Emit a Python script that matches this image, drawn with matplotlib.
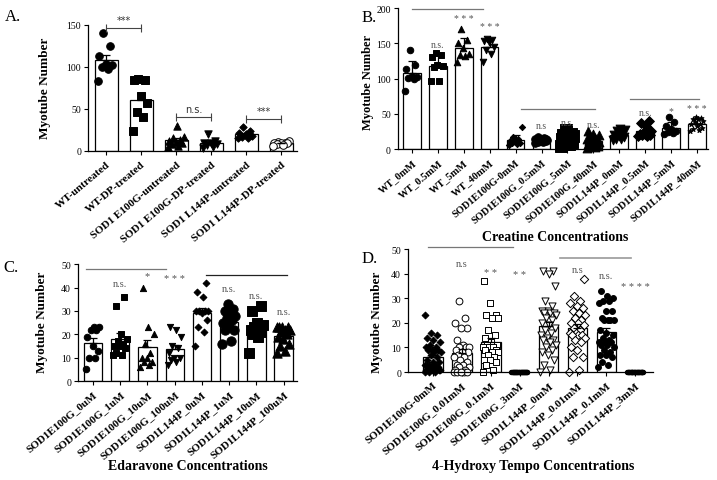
import numpy as np
import matplotlib.pyplot as plt

plt.rcParams['font.family'] = ['Liberation Serif', 'DejaVu Serif']

# ---------------- Panel A: DP treatment ----------------
a_labels = ['WT-untreated', 'WT-DP-treated', 'SOD1 E100G-untreated',
            'SOD1 E100G-DP-treated', 'SOD1 L144P-untreated', 'SOD1 L144P-DP-treated']
a_wt_untreated = [141, 125, 113, 103, 102, 100, 98, 83]
a_wt_dp = [85, 84, 86, 65, 57, 41, 47, 24]
a_e100g_untreated = [30, 17, 15, 13, 12, 11, 10, 8, 6, 5]
a_e100g_dp = [20, 12, 10, 9, 8, 7, 5, 4]
a_l144p_untreated = [28, 24, 22, 20, 18, 17, 16, 15]
a_l144p_dp = [12, 11, 10, 10, 9, 9, 8, 7, 6]

# ---------------- Panel B: creatine ----------------
b_labels = ['WT_0mM', 'WT_0.5mM', 'WT_5mM', 'WT_40mM', 'SOD1E100G-0mM', 'SOD1E100G_0.5mM',
            'SOD1E100G_5mM', 'SOD1E100G_40mM', 'SOD1L144P_0mM', 'SOD1L144P_0.5mM',
            'SOD1L144P_5mM', 'SOD1L144P_40mM']
b_wt_0 = [140, 120, 113, 104, 102, 101, 100, 83]
b_wt_05 = [136, 134, 131, 119, 118, 117, 96, 97]
b_wt_5 = [170, 155, 150, 143, 135, 132, 133, 124]
b_wt_40 = [156, 155, 154, 152, 145, 140, 135, 124]
b_e100g_0 = [31, 17, 14, 12, 11, 9, 8, 7, 6]
b_e100g_05 = [17, 16, 15, 15, 14, 14, 13, 13, 12, 12, 12, 11, 11, 10, 10, 9]
b_e100g_5 = [27, 22, 20, 20, 18, 16, 15, 14, 12, 10, 8, 7, 5]
b_e100g_40 = [25, 22, 20, 18, 16, 15, 14, 13, 12, 11, 10, 9, 8, 7, 6, 5, 4, 3, 2]
b_l144p_0 = [28, 27, 25, 22, 20, 18, 17, 15, 14, 13]
b_l144p_05 = [40, 37, 33, 25, 23, 22, 22, 21, 20, 20, 19, 18]
b_l144p_5 = [46, 38, 33, 28, 25, 24, 23, 22]
b_l144p_40 = [45, 44, 43, 42, 40, 38, 36, 35, 33, 30, 28, 27, 25]

# ---------------- Panel C: edaravone ----------------
c_labels = ['SOD1E100G_0uM', 'SOD1E100G_1uM', 'SOD1E100G_10uM', 'SOD1E100G_100uM',
            'SOD1L144P_0uM', 'SOD1L144P_1uM', 'SOD1L144P_10uM', 'SOD1L144P_100uM']
c_e100g_0 = [23, 23, 22, 22, 19, 15, 13, 10, 10, 5]
c_e100g_1 = [36, 32, 20, 18, 17, 16, 15, 15, 14, 12, 11, 11]
c_e100g_10 = [40, 23, 20, 16, 12, 10, 10, 8, 8, 7, 6]
c_e100g_100 = [23, 22, 19, 15, 14, 12, 10, 10, 9, 8, 7]
c_l144p_0 = [42, 38, 36, 30, 30, 30, 30, 29, 26, 23, 21, 15]
c_l144p_1 = [33, 31, 30, 30, 28, 27, 26, 25, 23, 22, 22, 17, 16]
c_l144p_10 = [32, 30, 25, 24, 23, 23, 22, 22, 21, 20, 19, 12]
c_l144p_100 = [23, 23, 23, 23, 22, 22, 21, 20, 19, 18, 16, 15, 13, 12]

# ---------------- Panel D: 4-hydroxy tempo ----------------
d_labels = ['SOD1E100G-0mM', 'SOD1E100G_0.01mM', 'SOD1E100G_0.1mM', 'SOD1E100G_3mM',
            'SOD1L144P_0mM', 'SOD1L144P_0.01mM', 'SOD1L144P_0.1mM', 'SOD1L144P_3mM']
d_e100g_0 = [23, 16, 15, 14, 13, 12, 11, 10, 10, 9, 9, 9, 8, 8, 7, 6, 5, 4, 3, 3,
             2, 2, 2, 1, 1, 1, 1, 1, 1, 0, 0, 0, 2, 3, 4]
d_e100g_001 = [29, 22, 20, 18, 18, 13, 11, 10, 10, 10, 9, 8, 8, 7, 6, 6, 5, 4, 3, 3,
               2, 2, 1, 1, 0, 0, 0, 0, 0]
d_e100g_01 = [37, 28, 23, 23, 22, 22, 17, 15, 14, 12, 11, 11, 10, 10, 10, 9, 9, 8, 8,
              7, 6, 5, 5, 4, 3, 1, 0]
d_e100g_3 = [0] * 30
d_l144p_0 = [41, 41, 40, 35, 29, 27, 25, 25, 24, 24, 24, 23, 22, 21, 20, 19, 18, 17,
             16, 15, 14, 13, 13, 12, 11, 10, 9, 8, 7, 5, 3, 1, 0]
d_l144p_001 = [38, 31, 29, 28, 27, 26, 25, 24, 23, 22, 21, 20, 20, 19, 18, 17, 16, 16,
               15, 15, 15, 14, 13, 12, 10, 9, 6, 6, 1, 0]
d_l144p_01 = [33, 31, 30, 29, 29, 28, 25, 25, 22, 21, 21, 21, 21, 17, 16, 15, 14, 13,
              12, 12, 12, 11, 11, 10, 9, 8, 7, 7, 6, 4, 3, 2]
d_l144p_3 = [0] * 30


def spread(vals, width):
    # deterministic scatter of points across the bar
    vals = np.asarray(vals)
    order = np.argsort(vals, kind='stable')
    offs = np.zeros(len(vals))
    for k, i in enumerate(order):
        offs[i] = ((k * 0.618) % 1 - 0.5) * 2 * width
    return offs


def draw_groups(ax, groups, markers, err='sem', bw=0.65, spread_w=0.25):
    for i, (vals, (m, s, filled)) in enumerate(zip(groups, markers)):
        vals = np.asarray(vals, float)
        mean = vals.mean()
        sd = vals.std(ddof=1)
        e = sd if err == 'sd' else sd / np.sqrt(len(vals))
        ax.bar(i, mean, width=bw, color='white', edgecolor='black', lw=0.9, zorder=1)
        ax.scatter(i + spread(vals, spread_w), vals, marker=m, s=s,
                   facecolor='black' if filled else 'white', edgecolor='black',
                   lw=0.7, zorder=2, clip_on=False)
        if e > 0:
            ax.errorbar(i, mean, yerr=[[0], [e]], color='black', lw=0.9,
                        capsize=3, capthick=0.9, zorder=3)


def style(ax, labels, yticks, xlim, xfs=8):
    for sp in ['top', 'right']:
        ax.spines[sp].set_visible(False)
    ax.spines['left'].set_linewidth(0.9)
    ax.spines['bottom'].set_linewidth(0.9)
    ax.set_xlim(*xlim)
    ax.set_ylim(yticks[0], yticks[-1])
    ax.set_yticks(yticks)
    ax.set_xticks(range(len(labels)))
    ax.set_xticklabels(labels, rotation=40, ha='right', rotation_mode='anchor',
                       fontweight='bold', fontsize=xfs)
    ax.tick_params(axis='both', length=3, width=0.8, labelsize=7, pad=2)
    ax.tick_params(axis='x', labelsize=xfs, pad=3)


fig = plt.figure(figsize=(7.17, 4.81), dpi=100)

# Panel A
axA = fig.add_axes([0.1227, 0.684, 0.2915, 0.262])
draw_groups(axA, [a_wt_untreated, a_wt_dp, a_e100g_untreated, a_e100g_dp,
                  a_l144p_untreated, a_l144p_dp],
            [('o', 30, True), ('s', 28, True), ('^', 28, True), ('v', 28, True),
             ('D', 14, True), ('o', 30, False)], err='sem', bw=0.65, spread_w=0.24)
style(axA, a_labels, [0, 50, 100, 150], (-0.52, 5.45))
for x0, x1, y, txt in [(0, 1, 146, '***'), (2, 3, 40.5, 'n.s.'), (4, 5, 37.8, '***')]:
    axA.plot([x0, x1], [y, y], color='#444444', lw=0.8, clip_on=False)
    axA.plot([x0, x1], [y, y], ls='none', marker='|', ms=6, mew=0.8,
             color='#444444', clip_on=False)
    axA.text((x0 + x1) / 2, y + 4, txt, ha='center', va='bottom', fontsize=7,
             family='DejaVu Sans', color='#333333')

# Panel B
axB = fig.add_axes([0.555, 0.688, 0.4323, 0.293])
draw_groups(axB, [b_wt_0, b_wt_05, b_wt_5, b_wt_40, b_e100g_0, b_e100g_05, b_e100g_5,
                  b_e100g_40, b_l144p_0, b_l144p_05, b_l144p_5, b_l144p_40],
            [('o', 22, True), ('s', 22, True), ('^', 22, True), ('v', 22, True),
             ('D', 10, True), ('o', 30, True), ('s', 70, True), ('^', 40, True),
             ('v', 40, True), ('D', 25, True), ('o', 22, True), ('*', 14, True)],
            err='sd', bw=0.68, spread_w=0.26)
style(axB, b_labels, [0, 50, 100, 150, 200], (-0.54, 11.42), xfs=7.5)
for x0, x1, y in [(0, 2.75, 199), (4.2, 7.05, 57), (8.4, 11.07, 71.5)]:
    axB.plot([x0, x1], [y, y], color='#777777', lw=0.9, clip_on=False)
for x, y, txt in [(1, 149, 'n.s.'), (2, 186, '* * *'), (3, 174, '* * *'), (5, 33, 'n.s'),
                  (6, 38, 'n.s.'), (7, 35, 'n.s.'), (9, 52, 'n.s.'), (10, 55, '*'),
                  (11, 58, '* * *')]:
    axB.text(x, y, txt, ha='center', va='center', fontsize=7, color='#555555')

# Panel C
axC = fig.add_axes([0.1088, 0.2058, 0.305, 0.243])
draw_groups(axC, [c_e100g_0, c_e100g_1, c_e100g_10, c_e100g_100, c_l144p_0, c_l144p_1,
                  c_l144p_10, c_l144p_100],
            [('o', 22, True), ('s', 22, True), ('^', 20, True), ('v', 20, True),
             ('D', 12, True), ('o', 45, True), ('s', 45, True), ('^', 45, True)],
            err='sem', bw=0.67, spread_w=0.26)
style(axC, c_labels, [0, 10, 20, 30, 40, 50], (-0.55, 7.48))
axC.plot([-0.24, 2.69], [47.9, 47.9], color='#777777', lw=0.9, clip_on=False)
axC.plot([4.15, 7.12], [45.4, 45.4], color='#222222', lw=0.9, clip_on=False)
for x, y, txt in [(1, 41.7, 'n.s.'), (2, 45, '*'), (3, 44, '* * *'), (5, 39.7, 'n.s.'),
                  (6, 36.7, 'n.s.'), (7, 29.6, 'n.s.')]:
    axC.text(x, y, txt, ha='center', va='center', fontsize=7.5, color='#555555')

# Panel D
axD = fig.add_axes([0.569, 0.2245, 0.342, 0.2557])
draw_groups(axD, [d_e100g_0, d_e100g_001, d_e100g_01, d_e100g_3, d_l144p_0, d_l144p_001,
                  d_l144p_01, d_l144p_3],
            [('D', 12, True), ('o', 24, False), ('s', 24, False), ('o', 10, True),
             ('v', 26, False), ('D', 18, False), ('o', 18, True), ('o', 10, True)],
            err='sem', bw=0.68, spread_w=0.28)
style(axD, d_labels, [0, 10, 20, 30, 40, 50], (-0.86, 7.62))
axD.plot([-0.17, 2.77], [51, 51], color='#777777', lw=0.9, clip_on=False)
axD.plot([4.4, 6.84], [46.2, 46.2], color='#999999', lw=1.2, clip_on=False)
for x, y, txt in [(1, 44.2, 'n.s'), (2, 40.5, '* *'), (3, 39.7, '* *'), (5, 41.5, 'n.s'),
                  (6, 39.2, 'n.s.'), (7, 34.7, '* * * *')]:
    axD.text(x, y, txt, ha='center', va='center', fontsize=7.5, color='#555555')

# y labels, x labels, panel letters
H = 481.0
W = 717.0
for x, y, fs in [(45, 88, 9.5), (368, 82, 9), (42, 322, 9.5), (377, 322, 9.5)]:
    fig.text(x / W, 1 - y / H, 'Myotube Number', rotation=90, ha='center', va='center',
             fontsize=fs, fontweight='bold')
for x, y, txt in [(555, 238, 'Creatine Concentrations'),
                  (188, 467, 'Edaravone Concentrations'),
                  (533, 467, '4-Hydroxy Tempo Concentrations')]:
    fig.text(x / W, 1 - y / H, txt, ha='center', va='center', fontsize=10,
             fontweight='bold')
for x, y, txt in [(5, 17, 'A.'), (362, 18, 'B.'), (3, 268, 'C.'), (362, 259, 'D.')]:
    fig.text(x / W, 1 - y / H, txt, ha='left', va='center', fontsize=12)

fig.savefig('out.png', dpi=100)
